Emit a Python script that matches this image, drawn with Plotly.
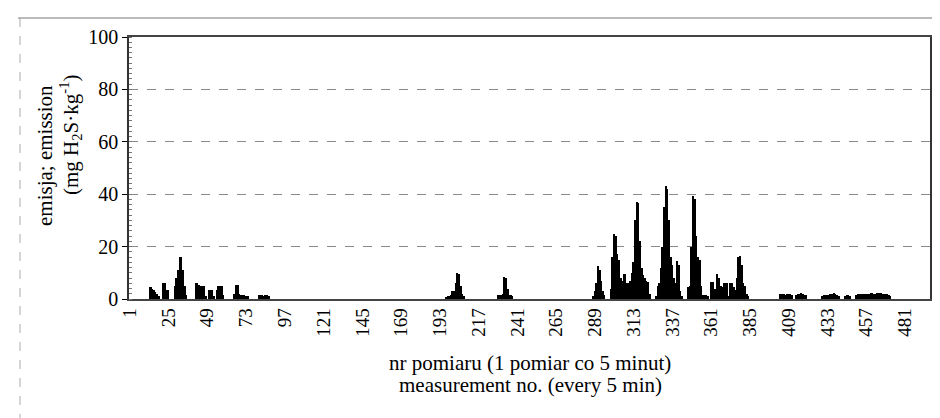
import plotly.graph_objects as go

# Emission per measurement, rows of 24 measurements (n = 1..496)
row_00 = [0,0,0,0,0,0,0,0,0,0,0,0,0,4.5,4,3.5,2.5,2,1,0,0,6,6,3.5]
row_01 = [3.5,0,0,0,5,8,11,16,16,11,5,1.5,0,0,0,0,0,6,6,5.5,5,5,5,1]
row_02 = [0,3.5,3.5,3.5,1,0,3.5,5,5,5,1.5,0,0,0,0,0,0,2,5.5,5.5,2,1.5,1.5,1.5]
row_03 = [1,1,0,0,0,0,0,0,1.5,1.5,1.5,1,1.5,1.5,1,0,0,0,0,0,0,0,0,0]
row_04 = [0,0,0,0,0,0,0,0,0,0,0,0,0,0,0,0,0,0,0,0,0,0,0,0]
row_05 = [0,0,0,0,0,0,0,0,0,0,0,0,0,0,0,0,0,0,0,0,0,0,0,0]
row_06 = [0,0,0,0,0,0,0,0,0,0,0,0,0,0,0,0,0,0,0,0,0,0,0,0]
row_07 = [0,0,0,0,0,0,0,0,0,0,0,0,0,0,0,0,0,0,0,0,0,0,0,0]
row_08 = [0,0,0,0,0.5,1,1,1.5,3,3,6,10,9.5,5,2,1,0,0,0,0,0,0,0,0]
row_09 = [0,0,0,0,0,0,0,0,0,0,0,0,1.5,1.5,1.5,2,8.5,8,4,1.5,1.5,1,0,0]
row_10 = [0,0,0,0,0,0,0,0,0,0,0,0,0,0,0,0,0,0,0,0,0,0,0,0]
row_11 = [0,0,0,0,0,0,0,0,0,0,0,0,0,0,0,0,0,0,0,0,0,0,0,1]
row_12 = [3,6,12.5,11,7,3,1.5,0,0,0,4,16,25,24,17,15,8,7,9.5,9.5,6,6,7,10]
row_13 = [14,30,37,36.5,22,12,9,8,7,6.5,2,0,0,0,1,5,6,12,20,35,43,42,30,16]
row_14 = [13,8,6,14.5,13,3,1,0,0,0,4.5,5,20,39.5,38,24,16,15,5,1.5,1.5,1.5,1,0]
row_15 = [6.5,6.5,4,4,9.5,8,5,4.5,6,6,6,1,6,6,4.5,3.5,8,16,16.5,13,6,5,2,1]
row_16 = [0,0,0,0,0,0,0,0,0,0,0,0,0,0,0,0,0,0,0,2,2,2,1.5,2]
row_17 = [2,2,1.5,0,0,1.5,2,2,2.2,2,1.5,1.5,0,0,0,0,0,0,0,0,0,1,1.5,1.5]
row_18 = [1.5,1.5,1.8,2,2.2,2,1.5,1,0,0,0,1.2,1.5,1.5,1,0,0,0,1.5,2,2,2,2,1.8]
row_19 = [1.8,2,2,2.2,2.2,2,2,2.2,2.2,2.2,2,2,2,1.8,1.5,1,0,0,0,0,0,0,0,0]
row_20 = [0,0,0,0,0,0,0,0,0,0,0,0,0,0,0,0]

rows = [row_00, row_01, row_02, row_03, row_04, row_05, row_06, row_07,
        row_08, row_09, row_10, row_11, row_12, row_13, row_14, row_15,
        row_16, row_17, row_18, row_19, row_20]
emission = [v for r in rows for v in r]
measurement = list(range(1, len(emission) + 1))

x_tick_labels = ["1", "25", "49", "73", "97", "121", "145", "169", "193", "217",
                 "241", "265", "289", "313", "337", "361", "385", "409", "433",
                 "457", "481"]
y_ticks = [0, 20, 40, 60, 80, 100]

FONT = "Liberation Serif"

fig = go.Figure()
fig.add_trace(go.Bar(
    x=measurement, y=emission,
    marker=dict(color="black", line=dict(width=0)),
    width=1.0,
    showlegend=False,
))

W, H = 940, 418
L, R, T, B = 121, 18, 29, 127
pw = W - L - R
ph = H - T - B

def px_x(px):
    return (px - L) / pw

def px_y(py):
    return (H - B - py) / ph

fig.update_layout(
    width=W, height=H,
    margin=dict(l=L, r=R, t=T, b=B, autoexpand=False),
    paper_bgcolor="white", plot_bgcolor="white",
    bargap=0,
    font=dict(family=FONT, size=19, color="black"),
    xaxis=dict(
        range=[0.5, len(emission) + 0.5],
        automargin=False,
        tickmode="array",
        tickvals=[int(t) for t in x_tick_labels],
        ticktext=x_tick_labels,
        tickangle=-90,
        ticks="",
        showgrid=False,
        showline=True, linecolor="#444", linewidth=1.5,
        mirror=True,
        zeroline=False,
        tickfont=dict(family=FONT, size=19),
    ),
    yaxis=dict(
        range=[0, 100],
        automargin=False,
        tickvals=y_ticks,
        ticks="outside", ticklen=5, tickcolor="black",
        showgrid=True, gridcolor="#8a8a8a", griddash="dash", gridwidth=1,
        showline=True, linecolor="#333", linewidth=1.5,
        mirror=True,
        zeroline=False,
        tickfont=dict(family=FONT, size=20),
        minor=dict(dtick=2, ticks="inside", ticklen=3, tickcolor="#777", showgrid=False),
    ),
    annotations=[
        dict(text="emisja; emission",
             textangle=-90, xref="paper", yref="paper",
             x=px_x(37), y=px_y(148), xanchor="center", yanchor="middle",
             showarrow=False, font=dict(family=FONT, size=21)),
        dict(text="(mg H<sub>2</sub>S·kg<sup>-1</sup>)",
             textangle=-90, xref="paper", yref="paper",
             x=px_x(63), y=px_y(127), xanchor="center", yanchor="middle",
             showarrow=False, font=dict(family=FONT, size=21)),
        dict(text="nr pomiaru (1 pomiar co 5 minut)",
             xref="paper", yref="paper",
             x=px_x(522), y=px_y(355), xanchor="center", yanchor="middle",
             showarrow=False, font=dict(family=FONT, size=21)),
        dict(text="measurement no. (every 5 min)",
             xref="paper", yref="paper",
             x=px_x(522), y=px_y(377), xanchor="center", yanchor="middle",
             showarrow=False, font=dict(family=FONT, size=21)),
    ],
    shapes=[
        dict(type="line", xref="paper", yref="paper",
             x0=px_x(10), x1=px_x(935), y0=px_y(10), y1=px_y(10),
             line=dict(color="#777", width=1)),
        dict(type="line", xref="paper", yref="paper",
             x0=px_x(12), x1=px_x(12), y0=px_y(10), y1=px_y(418),
             line=dict(color="#aaa", width=1, dash="dash")),
    ],
)

fig.write_html("out.html")
